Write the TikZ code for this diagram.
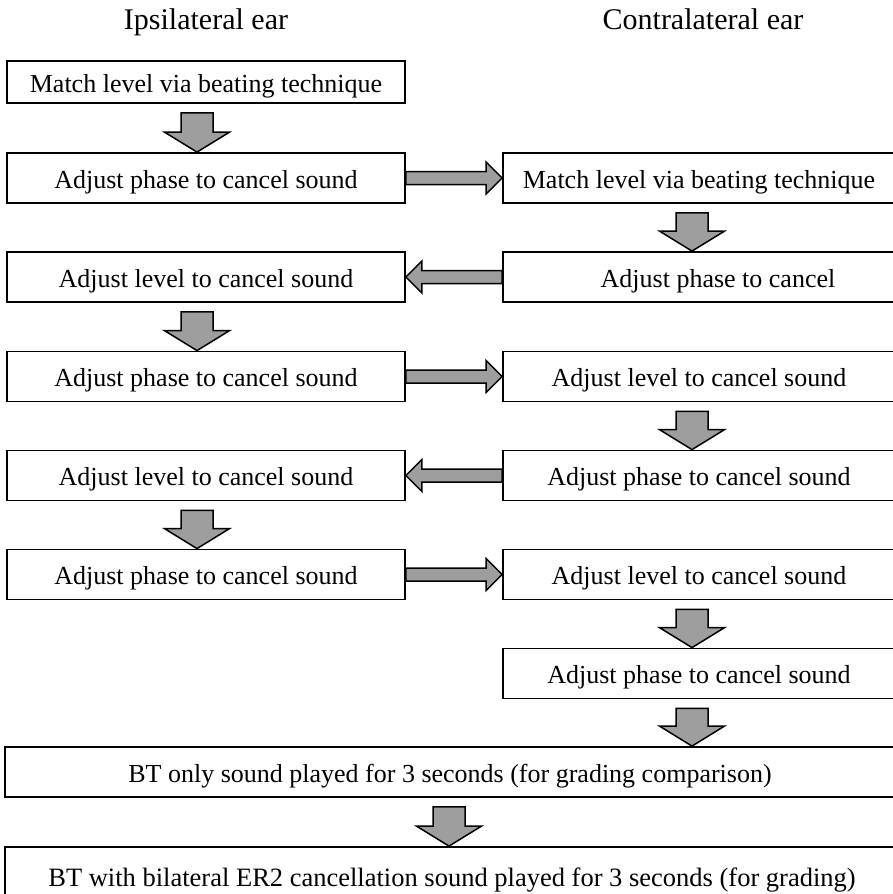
\documentclass[tikz,border=0pt]{standalone}
\usepackage{fontspec}
\setmainfont{Liberation Serif}
\usetikzlibrary{calc}
\definecolor{arrowgray}{rgb}{0.62,0.62,0.62}
\tikzset{
  box/.style={draw=black, line width=1.8pt, inner sep=0pt, minimum height=50pt,
    text height=22pt, text depth=2pt, font=\fontsize{26}{30}\selectfont},
  lbox/.style={box, minimum width=398pt},
  rbox/.style={box, minimum width=392pt},
  wbox/.style={box, minimum width=890pt},
  header/.style={anchor=base, inner sep=0pt, font=\fontsize{30}{34}\selectfont},
  blockarrow/.style={draw=black, line width=1.5pt, fill=arrowgray, line join=miter}
}
\newcommand\dnarr[3]{%
  \path[blockarrow] let \p1=(#2.south), \p2=(#3.north) in
   (#1pt-16pt,\y1-9pt) -- (#1pt+16pt,\y1-9pt) -- (#1pt+16pt,\y2+20pt) --
   (#1pt+32.5pt,\y2+20pt) -- (#1pt,\y2) -- (#1pt-32.5pt,\y2+20pt) --
   (#1pt-16pt,\y2+20pt) -- cycle;}
\newcommand\rtarr[2]{%
  \path[blockarrow] let \p1=(#1.east), \p2=(#2.west) in
   (\x1,\y1+6.5pt) -- (\x2-16pt,\y1+6.5pt) -- (\x2-16pt,\y1+16pt) -- (\x2,\y1) --
   (\x2-16pt,\y1-16pt) -- (\x2-16pt,\y1-6.5pt) -- (\x1,\y1-6.5pt) -- cycle;}
\newcommand\lfarr[2]{%
  \path[blockarrow] let \p1=(#1.west), \p2=(#2.east) in
   (\x1,\y1+6.5pt) -- (\x2+16pt,\y1+6.5pt) -- (\x2+16pt,\y1+16pt) -- (\x2,\y1) --
   (\x2+16pt,\y1-16pt) -- (\x2+16pt,\y1-6.5pt) -- (\x1,\y1-6.5pt) -- cycle;}
\begin{document}
\begin{tikzpicture}[x=1pt,y=1pt]
\useasboundingbox (0,0) rectangle (893,-894);
\fill[white] (0,0) rectangle (893,-894);
\node[header] (h1) at (206,-29) {Ipsilateral ear};
\node[header] (h2) at (703,-29) {Contralateral ear};

\node[lbox, minimum height=42pt] (L1) at (206,-82) {Match level via beating technique};
\node[lbox] (L2) at (206,-178) {Adjust phase to cancel sound};
\node[lbox] (L3) at (206,-277) {Adjust level to cancel sound};
\node[lbox] (L4) at (206,-376.5) {Adjust phase to cancel sound};
\node[lbox] (L5) at (206,-475.5) {Adjust level to cancel sound};
\node[lbox] (L6) at (206,-574.5) {Adjust phase to cancel sound};

\node[rbox] (R2) at (699,-178) {Match level via beating technique};
\node[rbox] (R3) at (699,-277) {\hspace*{38pt}Adjust phase to cancel};
\node[rbox] (R4) at (699,-376.5) {Adjust level to cancel sound};
\node[rbox] (R5) at (699,-475.5) {Adjust phase to cancel sound};
\node[rbox] (R6) at (699,-574.5) {Adjust level to cancel sound};
\node[rbox] (R7) at (699,-673.5) {Adjust phase to cancel sound};

\node[wbox] (B1) at (450,-772) {BT only sound played for 3 seconds (for grading comparison)};
\node[wbox, minimum width=894pt, minimum height=58pt, font=\fontsize{26.5}{30}\selectfont] (B2) at (452,-876)
  {BT with bilateral ER2 cancellation sound played for 3 seconds (for grading)};

\dnarr{197}{L1}{L2}
\rtarr{L2}{R2}
\dnarr{692}{R2}{R3}
\lfarr{R3}{L3}
\dnarr{197}{L3}{L4}
\rtarr{L4}{R4}
\dnarr{692}{R4}{R5}
\lfarr{R5}{L5}
\dnarr{197}{L5}{L6}
\rtarr{L6}{R6}
\dnarr{692}{R6}{R7}
\dnarr{692}{R7}{B1}
\dnarr{449}{B1}{B2}
\end{tikzpicture}
\end{document}
